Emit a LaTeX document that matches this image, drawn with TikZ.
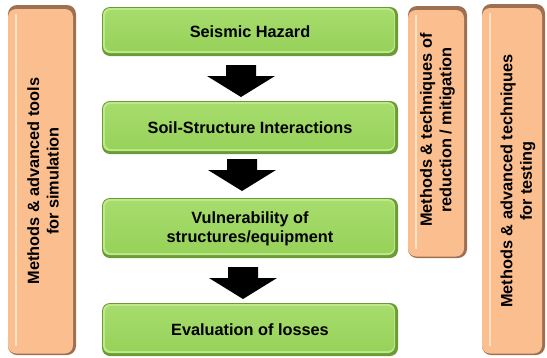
\documentclass[tikz,border=0pt]{standalone}
\usepackage{fontspec}
\setmainfont{Liberation Sans}
\usetikzlibrary{calc}
\definecolor{gdark}{HTML}{6A9B35}
\definecolor{glight}{HTML}{BDE98A}
\definecolor{gmain}{HTML}{97D25A}
\definecolor{gtop}{HTML}{A6DC6C}
\definecolor{odark}{HTML}{9C7051}
\definecolor{olight}{HTML}{FFE2C6}
\definecolor{omain}{HTML}{FBBE8F}
\newcommand\mygreenbox[4]{%
  \fill[gdark, rounded corners=8pt] (#1,#2) rectangle (#3,#4);
  \fill[glight, rounded corners=7pt] (#1+1,#2+1) rectangle (#3-3,#4-3);
  \shade[top color=gtop, bottom color=gmain, rounded corners=6pt] (#1+3,#2+3) rectangle (#3-4,#4-5);
}
\newcommand\myorangebox[4]{%
  \fill[odark, rounded corners=9pt] (#1,#2) rectangle (#3,#4);
  \fill[omain, rounded corners=8pt] (#1,#2+4) rectangle (#3-3,#4-1.5);
  \fill[olight] (#1+7,#2+9) rectangle (#1+9,#4-9);
}
\tikzset{
  x=1pt, y=-1pt,
  gtext/.style={font=\fontsize{16.3}{18.5}\selectfont\bfseries, align=center, inner sep=0pt, text=black},
  otext/.style={font=\fontsize{16.3}{19.5}\selectfont\bfseries, align=center, inner sep=0pt, rotate=90, text=black},
  downarrow/.pic={\fill[black] (-15,0) -- (15,0) -- (15,11) -- (34,11) -- (0,32) -- (-34,11) -- (-15,11) -- cycle;}
}
\begin{document}
\begin{tikzpicture}
\useasboundingbox (0,0) rectangle (547,357);
% side boxes
\myorangebox{8}{5}{76}{355}
\myorangebox{408}{6}{467}{258}
\myorangebox{482}{4}{545}{355}
\node[otext] (sim) at (43,181) {Methods \& advanced tools\\for simulation};
\node[otext] (mit) at (437.5,130) {Methods \& techniques of\\reduction / mitigation};
\node[otext] (test) at (518,181) {Methods \& advanced techniques\\for testing};
% green boxes
\mygreenbox{102}{7}{398}{56}
\mygreenbox{102}{101}{398}{154}
\mygreenbox{102}{198}{398}{258}
\mygreenbox{102}{303}{398}{356}
\node[gtext] (haz) at (250,32) {Seismic Hazard};
\node[gtext] (ssi) at (250,128) {Soil-Structure Interactions};
\node[gtext] (vul) at (250,229) {Vulnerability of\\structures/equipment};
\node[gtext] (loss) at (250,330) {Evaluation of losses};
% arrows
\pic at (241,65) {downarrow};
\pic at (242,159) {downarrow};
\pic at (243,267) {downarrow};
\end{tikzpicture}
\end{document}
